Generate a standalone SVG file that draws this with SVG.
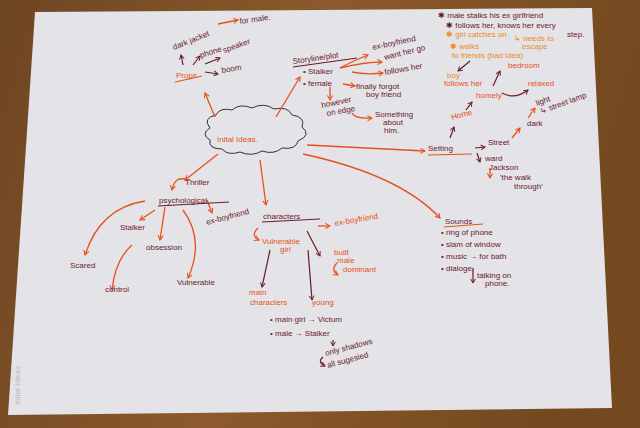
<svg xmlns="http://www.w3.org/2000/svg" width="640" height="428" viewBox="0 0 640 428">
<defs>
<linearGradient id="wood" x1="0" y1="0" x2="1" y2="0.2">
<stop offset="0" stop-color="#6e4522"/><stop offset="0.5" stop-color="#8c5a2c"/><stop offset="1" stop-color="#74491f"/>
</linearGradient>
<marker id="ao" viewBox="0 0 10 10" refX="8" refY="5" markerWidth="5" markerHeight="5" orient="auto"><path d="M1,1 L8,5 L1,9" fill="none" stroke="#e8501a" stroke-width="1.6"/></marker>
<marker id="ad" viewBox="0 0 10 10" refX="8" refY="5" markerWidth="5" markerHeight="5" orient="auto"><path d="M1,1 L8,5 L1,9" fill="none" stroke="#6b1a2a" stroke-width="1.6"/></marker>
</defs>
<style>
text{font-family:"Liberation Sans",Arial,sans-serif;font-size:8px}
.d{fill:#6b1a2a}.o{fill:#e8501a}.l{fill:#f08a20}
.co{fill:none;stroke:#e8501a;stroke-width:1.3;marker-end:url(#ao)}
.cd{fill:none;stroke:#6b1a2a;stroke-width:1.2;marker-end:url(#ad)}
.u{stroke-width:1.2;fill:none}
</style>
<rect width="640" height="428" fill="url(#wood)"/>
<polygon points="35,12 592,8 612,408 8,415" fill="#e3e3e8"/>
<text transform="translate(20,405) rotate(-90)" font-size="9" fill="#b9b9c4">Inital Ideas</text>

<g id="cloud">
<path d="M210,128 q-8,-10 6,-13 q4,-8 16,-5 q8,-7 20,-2 q12,-6 22,1 q14,-3 18,6 q14,2 10,12 q10,8 -4,14 q-2,9 -16,7 q-8,7 -20,3 q-10,6 -22,1 q-12,4 -18,-3 q-14,0 -12,-9 q-10,-6 0,-12z" fill="none" stroke="#333" stroke-width="1"/>
<text x="217" y="142" class="o" font-size="10">Inital Ideas.</text>
</g>

<g id="connectors">
<path class="co" d="M215,117 L205,93"/>
<path class="co" d="M276,117 L300,77"/>
<path class="co" d="M307,145 L425,151"/>
<path class="co" d="M303,154 Q400,175 440,218"/>
<path class="co" d="M260,160 L266,205"/>
<path class="co" d="M218,154 L185,180"/>
<path class="cd" d="M183,65 L181,55"/>
<path class="cd" d="M193,65 L200,56"/>
<path class="cd" d="M205,64 L220,58"/>
<path class="cd" d="M205,72 L218,74"/>
<path class="co" d="M218,24 L238,20"/>
<path class="co" d="M340,68 Q355,60 368,55"/>
<path class="co" d="M340,68 Q365,62 382,62"/>
<path class="co" d="M352,72 Q365,75 383,73"/>
<path class="co" d="M343,84 L355,86"/>
<path class="co" d="M330,87 L330,100"/>
<path class="co" d="M352,113 Q355,119 372,118"/>
<path class="cd" d="M470,61 L458,71"/>
<path class="cd" d="M450,138 L454,127"/>
<path class="cd" d="M466,110 L472,102"/>
<path class="cd" d="M493,86 L500,71"/>
<path class="cd" d="M502,93 Q515,100 528,90"/>
<path class="cd" d="M475,148 L485,147"/>
<path class="co" d="M512,138 L520,128"/>
<path class="co" d="M528,118 L535,108"/>
<path class="cd" d="M477,153 L480,162"/>
<path class="co" d="M490,168 L490,178"/>
<path class="co" d="M187,180 Q175,175 172,190"/>
<path class="co" d="M207,200 L212,213"/>
<path class="co" d="M155,210 L140,220"/>
<path class="co" d="M165,207 L160,240"/>
<path class="co" d="M183,210 Q205,240 188,278"/>
<path class="co" d="M145,201 Q100,208 85,255"/>
<path class="co" d="M132,245 Q115,260 112,290"/>
<path class="co" d="M318,226 L330,226"/>
<path class="co" d="M258,228 Q250,236 259,240"/>
<path class="cd" d="M270,250 L262,287"/>
<path class="cd" d="M307,231 L320,256"/>
<path class="cd" d="M308,250 L312,300"/>
<path class="co" d="M337,263 Q330,270 338,275"/>
<path class="cd" d="M333,340 L333,346"/>
<path class="cd" d="M323,357 Q317,362 325,366"/>
<path class="cd" d="M473,268 L473,283"/>
</g>

<g id="props">
<text x="176" y="78" class="o" font-size="9">Props</text>
<path class="u" d="M175,82 L202,76" stroke="#e8501a"/>
<text transform="translate(174,50) rotate(-22)" class="d">dark jacket</text>
<text transform="translate(240,24) rotate(-8)" class="d">for male.</text>
<text transform="translate(201,58) rotate(-18)" class="d">phone</text>
<text transform="translate(224,53) rotate(-20)" class="d">speaker</text>
<text transform="translate(222,73) rotate(-10)" class="d">boom</text>
</g>

<g id="storyline">
<text transform="translate(293,64) rotate(-8)" class="d" font-size="9">Storyline/plot</text>
<path class="u" d="M293,67 L357,58" stroke="#6b1a2a"/>
<text x="303" y="74" class="d">• Stalker</text>
<text x="303" y="86" class="d">• female</text>
<text transform="translate(373,50) rotate(-12)" class="d">ex-boyfriend</text>
<text transform="translate(385,60) rotate(-14)" class="d" font-size="7">want her go</text>
<text transform="translate(385,75) rotate(-10)" class="d">follows her</text>
<text x="356" y="89" class="d" font-size="7">finally forgot</text>
<text x="366" y="97" class="d" font-size="7">boy friend</text>
<text transform="translate(322,108) rotate(-12)" class="d">however</text>
<text transform="translate(327,116) rotate(-10)" class="d">on edge</text>
<text x="375" y="117" class="d" font-size="7">Something</text>
<text x="383" y="125" class="d" font-size="7">about</text>
<text x="384" y="133" class="d" font-size="7">him.</text>
</g>

<g id="notes">
<text x="438" y="18" class="d">✱ male stalks his ex girlfriend</text>
<text x="446" y="28" class="d">✱ follows her, knows her every</text>
<text x="567" y="37" class="d">step.</text>
<text x="446" y="37" class="l">✱ girl catches on</text>
<text x="514" y="41" class="l" font-size="7">↳ needs to</text>
<text x="522" y="49" class="l" font-size="7">escape</text>
<text x="450" y="49" class="l">✱ walks</text>
<text x="452" y="58" class="l">to friends (bad idea)</text>
</g>

<g id="setting">
<text x="447" y="78" class="l">boy</text>
<text x="444" y="86" class="o">follows her</text>
<text x="508" y="68" class="o">bedroom</text>
<text x="476" y="98" class="o" font-size="9">homely</text>
<text x="528" y="86" class="o">relaxed</text>
<text transform="translate(452,120) rotate(-15)" class="o" font-size="9">Home</text>
<text transform="translate(537,106) rotate(-20)" class="d" font-size="7">light</text>
<text transform="translate(541,114) rotate(-20)" class="d" font-size="7">↳ street lamp</text>
<text x="527" y="126" class="d">dark</text>
<text x="428" y="151" class="d" font-size="10">Setting</text>
<path class="u" d="M428,155 L472,154" stroke="#e8501a"/>
<text x="488" y="145" class="d">Street</text>
<text x="485" y="161" class="d">ward</text>
<text x="489" y="170" class="d">Jackson</text>
<text x="500" y="180" class="d">'the walk</text>
<text x="514" y="189" class="d">through'</text>
</g>

<g id="thriller">
<text x="185" y="185" class="d" font-size="9">Thriller</text>
<text x="159" y="203" class="d" font-size="9">psychological</text>
<path class="u" d="M158,206 L229,202" stroke="#6b1a2a"/>
<text transform="translate(207,225) rotate(-15)" class="d">ex-boyfriend</text>
<text x="120" y="230" class="d">Stalker</text>
<text x="146" y="250" class="d">obsession</text>
<text x="70" y="268" class="d">Scared</text>
<text x="105" y="292" class="d">control</text>
<text x="177" y="285" class="d">Vulnerable</text>
</g>

<g id="characters">
<text x="263" y="219" class="d" font-size="9">characters</text>
<path class="u" d="M262,222 L320,219" stroke="#6b1a2a"/>
<text transform="translate(335,226) rotate(-10)" class="o">ex-boyfriend</text>
<text x="262" y="244" class="o" font-size="9">Vulnerable</text>
<text x="280" y="252" class="o">girl</text>
<text x="334" y="255" class="o">built</text>
<text x="337" y="263" class="o">male</text>
<text x="343" y="272" class="o">dominant</text>
<text x="249" y="295" class="o" font-size="7">main</text>
<text x="250" y="305" class="o" font-size="7">characters</text>
<text x="312" y="305" class="o" font-size="7">young</text>
<text x="270" y="322" class="d">• main girl → Victum</text>
<text x="270" y="336" class="d">• male → Stalker</text>
<text transform="translate(326,356) rotate(-15)" class="d">only shadows</text>
<text transform="translate(328,368) rotate(-15)" class="d">all sugesied</text>
</g>

<g id="sounds">
<text x="445" y="224" class="d" font-size="9">Sounds</text>
<path class="u" d="M444,227 L483,224" stroke="#e8501a"/>
<text x="441" y="235" class="d">• ring of phone</text>
<text x="441" y="247" class="d">• slam of window</text>
<text x="441" y="259" class="d">• music → for bath</text>
<text x="441" y="271" class="d">• dialoge.</text>
<text x="477" y="278" class="d">talking on</text>
<text x="485" y="286" class="d">phone.</text>
</g>
</svg>
